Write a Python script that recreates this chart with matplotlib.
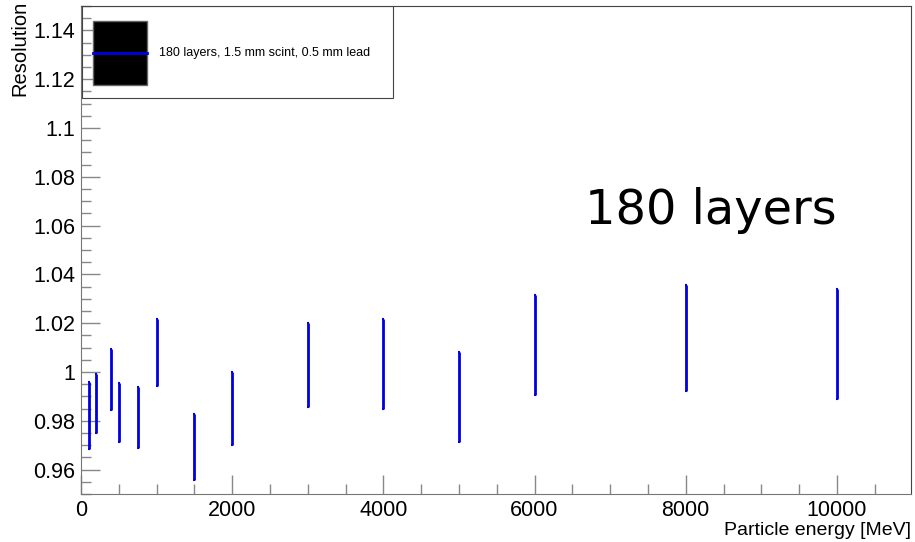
import numpy as np
import matplotlib.pyplot as plt
from matplotlib.patches import Rectangle
from matplotlib.ticker import MultipleLocator

# energies (MeV) and resolution with its error
energy = [100, 200, 400, 500, 750, 1000, 1500, 2000, 3000, 4000, 5000, 6000, 8000, 10000]
resolution = [0.9821, 0.9871, 0.9969, 0.9833, 0.9813, 1.0080, 0.9693, 0.9849,
              1.0029, 1.0033, 0.9897, 1.0111, 1.0140, 1.0116]
res_err = [0.0137, 0.0122, 0.0124, 0.0122, 0.0124, 0.0138, 0.0134, 0.0149,
           0.0173, 0.0185, 0.0185, 0.0206, 0.0218, 0.0226]
legend_label = "180 layers, 1.5 mm scint, 0.5 mm lead"

plt.rcParams['font.family'] = ['Liberation Sans', 'DejaVu Sans']

fig = plt.figure(figsize=(9.15, 5.42), dpi=100)
ax = fig.add_axes([0.0885, 0.0886, 0.9071, 0.9004])

ax.errorbar(energy, resolution, yerr=res_err, fmt='none', ecolor='#0000e0',
            elinewidth=2, capsize=0.8, capthick=1.5)

ax.set_xlim(0, 10980)
ax.set_ylim(0.95, 1.15)
ax.xaxis.set_major_locator(MultipleLocator(2000))
ax.xaxis.set_minor_locator(MultipleLocator(500))
ax.yaxis.set_major_locator(MultipleLocator(0.02))
ax.yaxis.set_minor_locator(MultipleLocator(0.005))
ax.yaxis.set_major_formatter(plt.FuncFormatter(lambda v, p: f"{v:.2f}".rstrip('0').rstrip('.')))

ax.tick_params(which='both', direction='in', top=False, right=False,
               color='#888888', labelsize=15.5, width=1)
ax.tick_params(which='major', length=14, pad=4)
ax.tick_params(which='minor', length=7)
for s in ['left', 'bottom']:
    ax.spines[s].set_color('#777777')
for s in ['top', 'right']:
    ax.spines[s].set_color('#444444')
    ax.spines[s].set_linewidth(0.8)

# axis titles at the end of the axes, ROOT style
fig.text(0.022, 0.999, "Resolution", rotation=90, ha='center', va='top', fontsize=14.5)
fig.text(0.9956, 0.006, "Particle energy [MeV]", ha='right', va='bottom', fontsize=14)

# big annotation
ax.text(0.759, 0.581, "180 layers", transform=ax.transAxes, fontsize=34.5,
        family='DejaVu Sans', ha='center', va='center')

# legend box drawn by hand
ax.add_patch(Rectangle((0.0012, 0.811), 0.375, 0.189, transform=ax.transAxes,
                       fill=False, edgecolor='#444444', linewidth=0.8, zorder=5))
ax.add_patch(Rectangle((0.0145, 0.839), 0.065, 0.131, transform=ax.transAxes,
                       facecolor='black', edgecolor='#666666', zorder=6))
ax.plot([0.0145, 0.0795], [0.9045, 0.9045], transform=ax.transAxes,
        color='#0000e0', linewidth=2, zorder=7)
ax.text(0.0945, 0.9045, legend_label, transform=ax.transAxes, fontsize=9,
        ha='left', va='center', zorder=7)

plt.savefig("out.png", dpi=100)
